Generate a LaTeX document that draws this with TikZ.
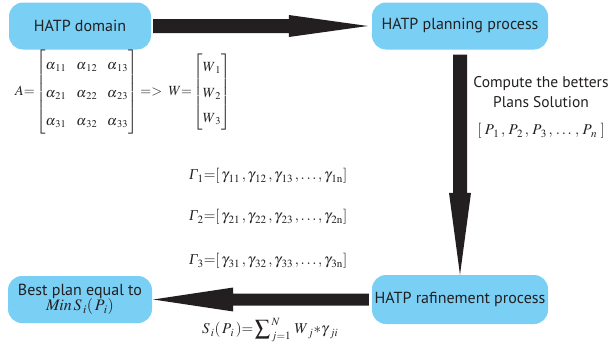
\documentclass[tikz,border=0pt]{standalone}
\usepackage{amsmath}
\usepackage{mathptmx}
\usepackage[no-math]{fontspec}
\setmainfont{PT Sans}
\newfontfamily\tms{Liberation Serif}
\usetikzlibrary{calc}
\definecolor{boxblue}{RGB}{122,207,245}
\definecolor{ink}{RGB}{35,31,32}
\newcommand{\Gam}{\mbox{\tms\itshape Γ}}
\tikzset{
  box/.style={rounded corners=14pt, fill=boxblue, text=ink, minimum height=47pt,
    inner sep=2pt, align=center, font=\fontsize{16}{18}\selectfont},
  arrowfill/.style={fill=ink},
  mathlbl/.style={text=ink, inner sep=0pt, font=\fontsize{15}{18}\selectfont},
  lbl/.style={text=ink, inner sep=0pt, align=center, font=\fontsize{15.5}{20}\selectfont}
}
\begin{document}
\begin{tikzpicture}[x=1pt,y=-1pt]
\useasboundingbox (0,0) rectangle (608,348);
\node[box, minimum width=142pt] (dom) at (80,26) {HATP domain};
\node[box, minimum width=176pt] (plan) at (460,26) {HATP planning process};
\node[box, minimum width=176pt, minimum height=49pt] (raf) at (460,299.5) {HATP rafinement process};
\node[box, minimum width=144pt] (best) at (80,299.5) {Best plan equal to\\[-3pt] $\mathit{Min}\,S_{\,i}(\,P_{\,i})$};

% top arrow
\fill[arrowfill] let \p1=($(dom.east)+(2,0)$), \p2=($(plan.west)+(-4,0)$) in
  (\x1,{\y1+7pt}) -- ({\x2-79pt},{\y1+7pt}) -- ({\x2-79pt},{\y1+11pt}) -- (\x2,\y1)
  -- ({\x2-79pt},{\y1-11pt}) -- ({\x2-79pt},{\y1-7pt}) -- (\x1,{\y1-7pt}) -- cycle;
% vertical arrow
\fill[arrowfill] let \p1=($(plan.south)+(0,5)$), \p2=(raf.north) in
  ({\x1-7pt},\y1) -- ({\x1-7pt},{\y2+82pt}) -- ({\x1-11pt},{\y2+82pt}) -- (\x1,\y2)
  -- ({\x1+11pt},{\y2+82pt}) -- ({\x1+7pt},{\y2+82pt}) -- ({\x1+7pt},\y1) -- cycle;
% bottom arrow
\fill[arrowfill] let \p1=($(raf.west)+(-3,0)$), \p2=($(best.east)+(1,0)$) in
  (\x1,{\y1+6pt}) -- ({\x2+80pt},{\y1+6pt}) -- ({\x2+80pt},{\y1+12pt}) -- (\x2,\y1)
  -- ({\x2+80pt},{\y1-12pt}) -- ({\x2+80pt},{\y1-6pt}) -- (\x1,{\y1-6pt}) -- cycle;

\node[mathlbl, anchor=west, font=\fontsize{14}{18}\selectfont] (mat) at (15,92) {$A{=}\renewcommand{\arraystretch}{1.55}\setlength{\arraycolsep}{5pt}\begin{bmatrix}\alpha_{\,11} & \alpha_{\,12} & \alpha_{\,13}\\ \alpha_{\,21} & \alpha_{\,22} & \alpha_{\,23}\\ \alpha_{\,31} & \alpha_{\,32} & \alpha_{\,33}\end{bmatrix}\,{=}{>}\;\;W{=}\renewcommand{\arraystretch}{1.4}\setlength{\arraycolsep}{3pt}\begin{bmatrix}W_{\;1}\\ W_{\;2}\\ W_{\;3}\end{bmatrix}$};

\node[lbl] (comp) at (541,92) {Compute the betters\\ Plans Solution};
\node[mathlbl] (plist) at (541,131) {$[\;P_{\,1}\,,\,P_{\,2}\,,\,P_{\,3}\,,\,\ldots\,,\,P_{\,n}\;]$};

\node[mathlbl, anchor=west] (g1) at (189,176) {$\Gam_{1}{=}[\,\gamma_{\,11}\,,\gamma_{\,12}\,,\gamma_{\,13}\,,\ldots,\gamma_{\,1\mathrm{n}}]$};
\node[mathlbl, anchor=west] (g2) at (189,217) {$\Gam_{2}{=}[\,\gamma_{\,21}\,,\gamma_{\,22}\,,\gamma_{\,23}\,,\ldots,\gamma_{\,2\mathrm{n}}]$};
\node[mathlbl, anchor=west] (g3) at (189,261) {$\Gam_{3}{=}[\,\gamma_{\,31}\,,\gamma_{\,32}\,,\gamma_{\,33}\,,\ldots,\gamma_{\,3\mathrm{n}}]$};

\node[mathlbl, anchor=west] (sum) at (202,330) {$S_{\,i}(\,P_{\,i}\,){=}\displaystyle\sum\nolimits_{\,j=1}^{\,N}\, W_{\;j} {*} \gamma_{\;ji}$};
\end{tikzpicture}
\end{document}
